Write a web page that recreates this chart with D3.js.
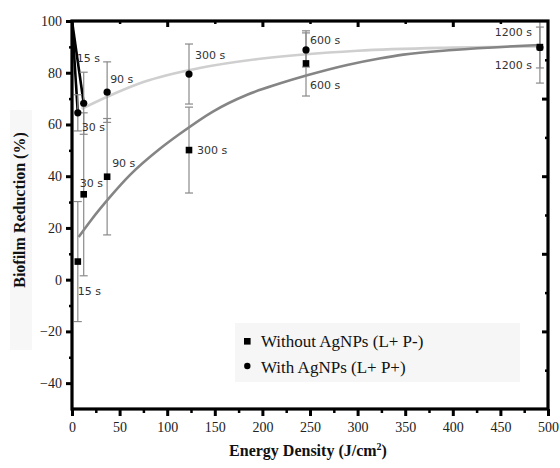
<!DOCTYPE html>
<html><head><meta charset="utf-8">
<script src="https://cdn.jsdelivr.net/npm/d3@7/dist/d3.min.js"></script>
<style>body{margin:0;background:#fff}svg{display:block}</style>
</head><body><svg id="c" width="560" height="468"></svg>
<script>
// ---- data ----
const energy = [6.1, 12.3, 36.9, 122.9, 245.8, 491.5];
const timeLabels = ["15 s", "30 s", "90 s", "300 s", "600 s", "1200 s"];
const withoutVals = [7.0, 33.0, 39.8, 50.1, 83.6, 89.9];
const withoutErr = [23.2, 31.5, 22.5, 16.6, 12.6, 13.9];
const withVals = [64.5, 68.2, 72.5, 79.5, 88.8, 89.75];
const withErr = [7.0, 12.0, 11.7, 11.6, 6.6, 7.9];
const fitWithX = [10, 37, 75, 134, 200, 300, 400, 491.5];
const fitWithY = [66.0, 70.7, 76.4, 81.8, 85.5, 88.5, 89.7, 90.2];
const fitWithoutX = [7, 20, 40, 61, 92, 113, 148, 184, 218, 247, 289, 323, 348, 400, 491.5];
const fitWithoutY = [16.5, 23.0, 32.0, 40.5, 50.5, 56.3, 65.0, 71.5, 75.8, 79.0, 83.0, 85.5, 87.0, 88.8, 90.7];
const steepX = [0, 6.1, 0, 12.3];
const steepY = [100, 64.5, 100, 68.2];
const xMajor = [0, 50, 100, 150, 200, 250, 300, 350, 400, 450, 500];
const yMajor = [-40, -20, 0, 20, 40, 60, 80, 100];
const legendLabels = ["Without AgNPs (L+ P-)", "With AgNPs (L+ P+)"];
// label offsets (px) relative to each point
const withLabelOff = [[-1, -55], [-2, 24], [3, -13], [6, -19], [4, -10], [-8, -15]];
const withoutLabelOff = [[0, 30], [-4, -11], [5, -14], [8, 0], [4, 22], [-8, 18]];

const svg = d3.select("#c");
const L = 72, R = 548, T = 21, B = 409;
const x = d3.scaleLinear().domain([0, 500]).range([L, R]);
const y = d3.scaleLinear().domain([-50, 100]).range([B, T]);
const yR = d3.scaleLinear().domain([0, 100]).range([B, T]);
const SERIF = '"Liberation Serif"';
const SANS = '"DejaVu Sans"';

svg.append("rect").attr("width", 560).attr("height", 468).attr("fill", "#fff");
svg.append("rect").attr("x", 10).attr("y", 110).attr("width", 22).attr("height", 240).attr("fill", "#f7f7f7");
svg.append("rect").attr("x", 235).attr("y", 323).attr("width", 285).attr("height", 59).attr("fill", "#f6f6f6");

const defs = svg.append("defs");
defs.append("clipPath").attr("id", "clip").append("rect").attr("x", L).attr("y", T).attr("width", R - L).attr("height", B - T);
const plot = svg.append("g").attr("clip-path", "url(#clip)");

const lineGen = d3.line().x(d => x(d[0])).y(d => y(d[1])).curve(d3.curveMonotoneX);
plot.append("path").datum(fitWithX.map((v, i) => [v, fitWithY[i]]))
  .attr("d", lineGen).attr("fill", "none").attr("stroke", "#cfcfcf").attr("stroke-width", 2.6);
plot.append("path").datum(fitWithoutX.map((v, i) => [v, fitWithoutY[i]]))
  .attr("d", lineGen).attr("fill", "none").attr("stroke", "#858585").attr("stroke-width", 2.6);
for (let i = 0; i < steepX.length; i += 2) {
  plot.append("line").attr("x1", x(steepX[i])).attr("y1", y(steepY[i]))
    .attr("x2", x(steepX[i + 1])).attr("y2", y(steepY[i + 1]))
    .attr("stroke", "#000").attr("stroke-width", 2.6);
}

function errBars(vals, errs) {
  const g = plot.append("g").attr("stroke", "#8a8a8a").attr("stroke-width", 1.2);
  energy.forEach((e, i) => {
    const cx = x(e), y1 = y(vals[i] + errs[i]), y2 = y(vals[i] - errs[i]);
    g.append("line").attr("x1", cx).attr("x2", cx).attr("y1", y1).attr("y2", y2);
    [y1, y2].forEach(yy => g.append("line").attr("x1", cx - 4).attr("x2", cx + 4).attr("y1", yy).attr("y2", yy));
  });
}
errBars(withoutVals, withoutErr);
errBars(withVals, withErr);

plot.selectAll(".sq").data(energy).enter().append("rect")
  .attr("x", d => x(d) - 3.3).attr("y", (d, i) => y(withoutVals[i]) - 3.3)
  .attr("width", 6.6).attr("height", 6.6).attr("fill", "#000");
plot.selectAll(".ci").data(energy).enter().append("circle")
  .attr("cx", d => x(d)).attr("cy", (d, i) => y(withVals[i])).attr("r", 3.6).attr("fill", "#000");

function labels(vals, offs) {
  energy.forEach((e, i) => {
    const o = offs[i];
    svg.append("text").attr("x", x(e) + o[0]).attr("y", y(vals[i]) + o[1])
      .attr("dy", "0.35em").attr("text-anchor", o[0] < -5 ? "end" : "start")
      .style("font-family", SANS).style("font-size", "11px").attr("fill", "#333")
      .text(timeLabels[i]);
  });
}
labels(withVals, withLabelOff);
labels(withoutVals, withoutLabelOff);

function styleAxis(g, w) {
  g.attr("font-family", null);
  g.select(".domain").remove();
  g.selectAll(".tick line").attr("stroke", "#000").attr("stroke-width", w);
  g.selectAll(".tick text").style("font-family", SERIF).style("font-size", "14px").attr("fill", "#222");
}
const xMinor = d3.range(25, 500, 50);
const gxB = svg.append("g").attr("transform", `translate(0,${B})`)
  .call(d3.axisBottom(x).tickValues(xMajor).tickSize(7).tickPadding(6).tickFormat(d3.format("d")));
styleAxis(gxB, 3);
const gxBm = svg.append("g").attr("transform", `translate(0,${B})`)
  .call(d3.axisBottom(x).tickValues(xMinor).tickSize(4).tickFormat(""));
styleAxis(gxBm, 2.5);
const gyL = svg.append("g").attr("transform", `translate(${L},0)`)
  .call(d3.axisLeft(y).tickValues(yMajor).tickSize(6).tickPadding(4).tickFormat(d3.format("d")));
styleAxis(gyL, 3);
const gyLm = svg.append("g").attr("transform", `translate(${L},0)`)
  .call(d3.axisLeft(y).tickValues([-30, -10, 10, 30, 50, 70, 90]).tickSize(3).tickFormat(""));
styleAxis(gyLm, 2.5);
const gxT = svg.append("g").attr("transform", `translate(0,${T})`)
  .call(d3.axisBottom(x).tickValues([100, 200, 300, 400]).tickSize(6).tickFormat(""));
styleAxis(gxT, 3);
const gxTm = svg.append("g").attr("transform", `translate(0,${T})`)
  .call(d3.axisBottom(x).tickValues([50, 150, 250, 350, 450]).tickSize(3).tickFormat(""));
styleAxis(gxTm, 2.5);
const gyR = svg.append("g").attr("transform", `translate(${R},0)`)
  .call(d3.axisLeft(yR).tickValues([20, 40, 60, 80]).tickSize(6).tickFormat(""));
styleAxis(gyR, 3);
const gyRm = svg.append("g").attr("transform", `translate(${R},0)`)
  .call(d3.axisLeft(yR).tickValues([10, 30, 50, 70, 90]).tickSize(3).tickFormat(""));
styleAxis(gyRm, 2.5);

svg.append("rect").attr("x", L).attr("y", T).attr("width", R - L).attr("height", B - T)
  .attr("fill", "none").attr("stroke", "#000").attr("stroke-width", 3.2);

const xt = svg.append("text").attr("x", 308).attr("y", 456).attr("text-anchor", "middle")
  .style("font-family", SERIF).style("font-weight", "bold").style("font-size", "16px").attr("fill", "#111");
xt.append("tspan").text("Energy Density (J/cm");
xt.append("tspan").style("font-size", "10px").attr("dy", -6).text("2");
xt.append("tspan").attr("dy", 6).text(")");
svg.append("text").attr("transform", "translate(25,210) rotate(-90)").attr("text-anchor", "middle")
  .style("font-family", SERIF).style("font-weight", "bold").style("font-size", "16px").attr("fill", "#111")
  .text("Biofilm Reduction (%)");

const lg = svg.append("g");
lg.append("rect").attr("x", 244).attr("y", 338).attr("width", 6.6).attr("height", 6.6).attr("fill", "#000");
lg.append("circle").attr("cx", 247.3).attr("cy", 366).attr("r", 3.2).attr("fill", "#000");
legendLabels.forEach((t, i) => {
  lg.append("text").attr("x", 261).attr("y", 347 + i * 26).style("font-family", SERIF)
    .style("font-size", "17px").attr("fill", "#111").text(t);
});
</script></body></html>
